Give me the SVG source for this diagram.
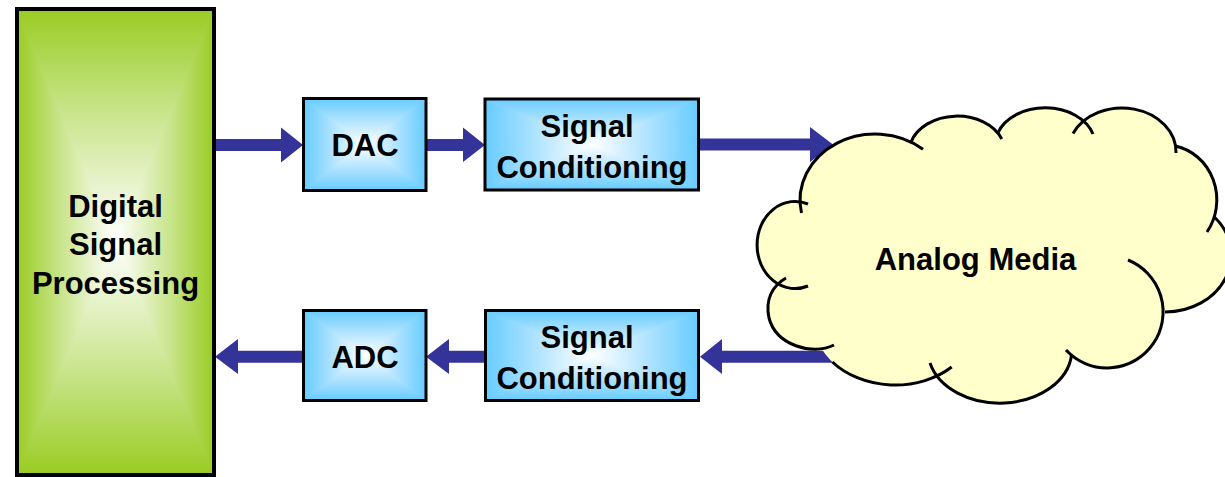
<svg xmlns="http://www.w3.org/2000/svg" width="1225" height="477" viewBox="0 0 1225 477">
  <style>
    .lbl { font-family: "Liberation Sans", Arial, sans-serif; font-weight: bold; font-size: 31px; text-anchor: middle; fill: #000; }
    .frame { fill: none; stroke: #000; stroke-width: 3; }
    .frame-thick { fill: none; stroke: #000; stroke-width: 4; }
    .arrow { fill: #333399; }
    .cloud-fill { fill: #FFFFCC; stroke: none; }
    .cloud-line { fill: none; stroke: #000; stroke-width: 3; stroke-linecap: butt; }
    .seam { vector-effect: non-scaling-stroke; stroke-width: 1; }
  </style>
  <defs>
    <!-- shared stops: edge colour to white centre -->
    <linearGradient id="greenStops">
      <stop offset="0" stop-color="#99CC22"/>
      <stop offset="0.4" stop-color="#C4E282"/>
      <stop offset="1" stop-color="#FFFFFF"/>
    </linearGradient>
    <linearGradient id="blueStops">
      <stop offset="0" stop-color="#66CCFF"/>
      <stop offset="0.4" stop-color="#A4DFFF"/>
      <stop offset="1" stop-color="#FFFFFF"/>
    </linearGradient>
    <linearGradient id="gT" href="#greenStops" x1="0" y1="0" x2="0" y2="1"/>
    <linearGradient id="gB" href="#greenStops" x1="0" y1="1" x2="0" y2="0"/>
    <linearGradient id="gL" href="#greenStops" x1="0" y1="0" x2="1" y2="0"/>
    <linearGradient id="gR" href="#greenStops" x1="1" y1="0" x2="0" y2="0"/>
    <linearGradient id="bT" href="#blueStops" x1="0" y1="0" x2="0" y2="1"/>
    <linearGradient id="bB" href="#blueStops" x1="0" y1="1" x2="0" y2="0"/>
    <linearGradient id="bL" href="#blueStops" x1="0" y1="0" x2="1" y2="0"/>
    <linearGradient id="bR" href="#blueStops" x1="1" y1="0" x2="0" y2="0"/>
    <!-- rectangular "from centre" shading built from four triangles -->
    <symbol id="rectGreen" viewBox="0 0 1 1" preserveAspectRatio="none">
      <polygon class="seam" points="0,0 1,0 0.5,0.5" fill="url(#gT)" stroke="url(#gT)"/>
      <polygon class="seam" points="1,1 0,1 0.5,0.5" fill="url(#gB)" stroke="url(#gB)"/>
      <polygon class="seam" points="0,0 0.5,0.5 0,1" fill="url(#gL)" stroke="url(#gL)"/>
      <polygon class="seam" points="1,0 1,1 0.5,0.5" fill="url(#gR)" stroke="url(#gR)"/>
    </symbol>
    <symbol id="rectBlue" viewBox="0 0 1 1" preserveAspectRatio="none">
      <polygon class="seam" points="0,0 1,0 0.5,0.5" fill="url(#bT)" stroke="url(#bT)"/>
      <polygon class="seam" points="1,1 0,1 0.5,0.5" fill="url(#bB)" stroke="url(#bB)"/>
      <polygon class="seam" points="0,0 0.5,0.5 0,1" fill="url(#bL)" stroke="url(#bL)"/>
      <polygon class="seam" points="1,0 1,1 0.5,0.5" fill="url(#bR)" stroke="url(#bR)"/>
    </symbol>
  </defs>

  <rect width="1225" height="477" fill="#FFFFFF"/>

  <!-- block arrows -->
  <g id="connectors">
    <path id="dsp-to-dac" class="arrow" d="M214,139 H281 V127.5 L303,145 L281,162.5 V151 H214 Z"/>
    <path id="dac-to-cond-out" class="arrow" d="M426,139 H463 V127.5 L485,145 L463,162 V151 H426 Z"/>
    <path id="cond-out-to-media" class="arrow" d="M699,138.5 H810 V127 L833,144.5 L810,162 V150.5 H699 Z"/>
    <path id="media-to-cond-in" class="arrow" d="M834,350.7 H722 V339 L700,356.7 L722,374 V362.7 H834 Z"/>
    <path id="cond-in-to-adc" class="arrow" d="M486,350.7 H449 V339 L426,356.7 L449,374 V362.7 H486 Z"/>
    <path id="adc-to-dsp" class="arrow" d="M304,350.7 H238 V339 L215,356.7 L238,374 V362.7 H304 Z"/>
  </g>

  <g id="dsp">
    <use href="#rectGreen" x="17" y="9" width="197" height="466"/>
    <rect class="frame-thick" x="17" y="9" width="197" height="466"/>
    <text class="lbl" x="115.5" y="216.5">Digital</text>
    <text class="lbl" x="115.5" y="255">Signal</text>
    <text class="lbl" x="115.5" y="293.5">Processing</text>
  </g>

  <g id="dac">
    <use href="#rectBlue" x="303.5" y="98.5" width="122.5" height="92"/>
    <rect class="frame" x="303.5" y="98.5" width="122.5" height="92"/>
    <text class="lbl" x="365" y="156">DAC</text>
  </g>

  <g id="cond-out">
    <use href="#rectBlue" x="485" y="99" width="213.5" height="91"/>
    <rect class="frame" x="485" y="99" width="213.5" height="91"/>
    <text class="lbl" x="587" y="137">Signal</text>
    <text class="lbl" x="592" y="178">Conditioning</text>
  </g>

  <g id="adc">
    <use href="#rectBlue" x="303.5" y="310.5" width="122.5" height="90"/>
    <rect class="frame" x="303.5" y="310.5" width="122.5" height="90"/>
    <text class="lbl" x="365" y="368">ADC</text>
  </g>

  <g id="cond-in">
    <use href="#rectBlue" x="485.5" y="310.5" width="213" height="90"/>
    <rect class="frame" x="485.5" y="310.5" width="213" height="90"/>
    <text class="lbl" x="587" y="348">Signal</text>
    <text class="lbl" x="592" y="389">Conditioning</text>
  </g>

  <g id="media">
    <!-- body of the cloud: each puff traced between the points where it meets its neighbours -->
    <path class="cloud-fill" d="M800,201.8
      A75,66 0 0 1 911,142.1
      A48,36 0 0 1 997.8,133
      A50,37 0 0 1 1083.4,121.3
      A54,44 0 0 1 1175.5,146
      A52,55 0 0 1 1214.4,217
      A66,57 0 0 1 1163,312
      A56,56 0 0 1 1071.5,355.3
      A72,53 0 0 1 937.1,375.8
      A82,65 0 0 1 821.4,348.6
      L821,348.84
      C799.98,351.52 774.74,340.14 769,318
      C765.88,303.96 769.45,292.35 777.82,284.12
      A38,43.6 0 0 1 800,201.8 Z"/>
    <!-- outline: one stroke per puff, some running a little past the neighbour -->
    <path class="cloud-line" d="M801.5,213 A75,66 0 0 1 923,149.3"/>
    <path class="cloud-line" d="M911,142.1 A48,36 0 0 1 1001.8,139"/>
    <path class="cloud-line" d="M997.8,133 A50,37 0 0 1 1093,134"/>
    <path class="cloud-line" d="M1073,133.5 A54,44 0 0 1 1176,153"/>
    <path class="cloud-line" d="M1175.5,146 A52,55 0 0 1 1207,232"/>
    <path class="cloud-line" d="M1214.4,217 A66,57 0 0 1 1165,312"/>
    <path class="cloud-line" d="M1128,260 A56,56 0 1 1 1066,350"/>
    <path class="cloud-line" d="M1071.5,355.3 A72,53 0 0 1 930,363"/>
    <path class="cloud-line" d="M951.7,367 A82,65 0 0 1 832.4,362"/>
    <path class="cloud-line" d="M834,345 C812,356 776,345 769,318 C765,300 772,286 786,278"/>
    <path class="cloud-line" d="M808,286 A38,43.6 0 1 1 808,204"/>
    <text class="lbl" x="975.5" y="270">Analog Media</text>
  </g>
</svg>
